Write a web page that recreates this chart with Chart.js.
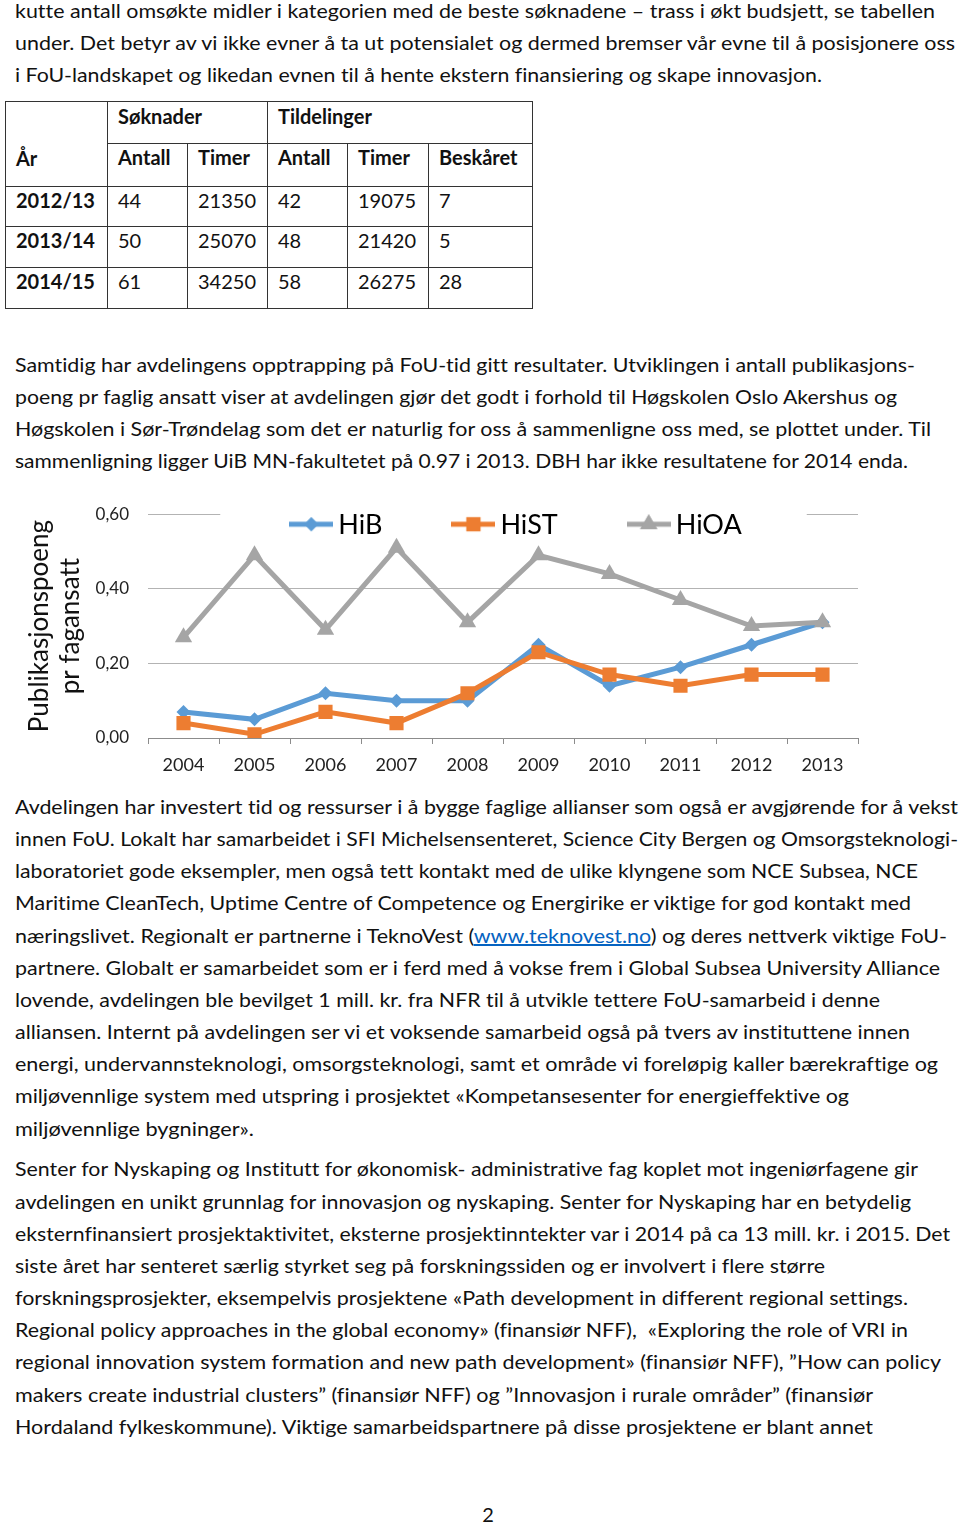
<!DOCTYPE html>
<html>
<head>
<meta charset="utf-8">
<script src="https://cdn.jsdelivr.net/npm/chart.js@4.4.1/dist/chart.umd.min.js"></script>
<style>
  html, body { margin: 0; padding: 0; background: #fff; }
  body { width: 960px; height: 1529px; position: relative; overflow: hidden; font-family: Lato, "Open Sans", sans-serif; color: #111; font-variant-ligatures: none; }
  .ln { position: absolute; left: 15px; font-size: 20px; line-height: 24px; white-space: nowrap; transform-origin: 0 0; }
  .lk { color: #0563C1; text-decoration: underline; }
  #tbl { position: absolute; left: 5px; top: 101px; border-collapse: collapse; table-layout: fixed; font-size: 20px; line-height: 24px; }
  #tbl td { border: 1px solid #333; padding: 1px 0 0 10px; vertical-align: top; box-sizing: border-box; }
  #tbl .b { font-weight: bold; }
  #chartBox { position: absolute; left: 0; top: 485px; width: 960px; height: 305px; }
  #pg { position: absolute; left: 0; width: 976px; text-align: center; top: 1502px; font-size: 20px; line-height: 24px; }
</style>
</head>
<body>

<div class="ln" style="top:-2px" data-w="920">kutte antall omsøkte midler i kategorien med de beste søknadene – trass i økt budsjett, se tabellen</div>
<div class="ln" style="top:30px" data-w="940">under. Det betyr av vi ikke evner å ta ut potensialet og dermed bremser vår evne til å posisjonere oss</div>
<div class="ln" style="top:62px" data-w="807">i FoU-landskapet og likedan evnen til å hente ekstern finansiering og skape innovasjon.</div>

<table id="tbl"></table>

<div class="ln" style="top:352px" data-w="900">Samtidig har avdelingens opptrapping på FoU-tid gitt resultater. Utviklingen i antall publikasjons-</div>
<div class="ln" style="top:384px" data-w="882">poeng pr faglig ansatt viser at avdelingen gjør det godt i forhold til Høgskolen Oslo Akershus og</div>
<div class="ln" style="top:416px" data-w="916">Høgskolen i Sør-Trøndelag som det er naturlig for oss å sammenligne oss med, se plottet under. Til</div>
<div class="ln" style="top:448px" data-w="893">sammenligning ligger UiB MN-fakultetet på 0.97 i 2013. DBH har ikke resultatene for 2014 enda.</div>

<div id="chartBox"><canvas id="chart"></canvas></div>

<div class="ln" style="top:794px" data-w="943">Avdelingen har investert tid og ressurser i å bygge faglige allianser som også er avgjørende for å vekst</div>
<div class="ln" style="top:826px" data-w="943">innen FoU. Lokalt har samarbeidet i SFI Michelsensenteret, Science City Bergen og Omsorgsteknologi-</div>
<div class="ln" style="top:858px" data-w="903">laboratoriet gode eksempler, men også tett kontakt med de ulike klyngene som NCE Subsea, NCE</div>
<div class="ln" style="top:890px" data-w="896">Maritime CleanTech, Uptime Centre of Competence og Energirike er viktige for god kontakt med</div>
<div class="ln" style="top:923px" data-w="932">næringslivet. Regionalt er partnerne i TeknoVest (<span class="lk">www.teknovest.no</span>) og deres nettverk viktige FoU-</div>
<div class="ln" style="top:955px" data-w="925">partnere. Globalt er samarbeidet som er i ferd med å vokse frem i Global Subsea University Alliance</div>
<div class="ln" style="top:987px" data-w="865">lovende, avdelingen ble bevilget 1 mill. kr. fra NFR til å utvikle tettere FoU-samarbeid i denne</div>
<div class="ln" style="top:1019px" data-w="895">alliansen. Internt på avdelingen ser vi et voksende samarbeid også på tvers av instituttene innen</div>
<div class="ln" style="top:1051px" data-w="923">energi, undervannsteknologi, omsorgsteknologi, samt et område vi foreløpig kaller bærekraftige og</div>
<div class="ln" style="top:1083px" data-w="834">miljøvennlige system med utspring i prosjektet «Kompetansesenter for energieffektive og</div>
<div class="ln" style="top:1116px" data-w="239">miljøvennlige bygninger».</div>

<div class="ln" style="top:1156px" data-w="903">Senter for Nyskaping og Institutt for økonomisk- administrative fag koplet mot ingeniørfagene gir</div>
<div class="ln" style="top:1189px" data-w="896">avdelingen en unikt grunnlag for innovasjon og nyskaping. Senter for Nyskaping har en betydelig</div>
<div class="ln" style="top:1221px" data-w="935">eksternfinansiert prosjektaktivitet, eksterne prosjektinntekter var i 2014 på ca 13 mill. kr. i 2015. Det</div>
<div class="ln" style="top:1253px" data-w="810">siste året har senteret særlig styrket seg på forskningssiden og er involvert i flere større</div>
<div class="ln" style="top:1285px" data-w="893">forskningsprosjekter, eksempelvis prosjektene «Path development in different regional settings.</div>
<div class="ln" style="top:1317px" data-w="893">Regional policy approaches in the global economy» (finansiør NFF),&nbsp; «Exploring the role of VRI in</div>
<div class="ln" style="top:1349px" data-w="926">regional innovation system formation and new path development» (finansiør NFF), ”How can policy</div>
<div class="ln" style="top:1382px" data-w="858">makers create industrial clusters” (finansiør NFF) og ”Innovasjon i rurale områder” (finansiør</div>
<div class="ln" style="top:1414px" data-w="858">Hordaland fylkeskommune). Viktige samarbeidspartnere på disse prosjektene er blant annet</div>

<div id="pg">2</div>

<script>
// Tabell: søknader og tildelinger
const tableYears = ['2012/13', '2013/14', '2014/15'];
const soknadAntall = [44, 50, 61];
const soknadTimer = [21350, 25070, 34250];
const tildelAntall = [42, 48, 58];
const tildelTimer = [19075, 21420, 26275];
const beskaret = [7, 5, 28];

// Plott: publikasjonspoeng pr fagansatt
const years = ['2004', '2005', '2006', '2007', '2008', '2009', '2010', '2011', '2012', '2013'];
const hib = [0.07, 0.05, 0.12, 0.10, 0.10, 0.25, 0.14, 0.19, 0.25, 0.31];
const hist = [0.04, 0.01, 0.07, 0.04, 0.12, 0.23, 0.17, 0.14, 0.17, 0.17];
const hioa = [0.27, 0.49, 0.29, 0.51, 0.31, 0.49, 0.44, 0.37, 0.30, 0.31];
const yTicks = [0, 0.2, 0.4, 0.6];

// bygg tabellen
const colW = [102, 80, 80, 80, 81, 104];
const tbl = document.getElementById('tbl');
let html = '<colgroup>' + colW.map(w => '<col style="width:' + w + 'px">').join('') + '</colgroup>';
html += '<tr style="height:42px"><td class="b" rowspan="2" style="padding-top:44px">År</td>' +
  '<td class="b" colspan="2" style="padding-top:2px">Søknader</td>' +
  '<td class="b" colspan="3" style="padding-top:2px">Tildelinger</td></tr>';
html += '<tr style="height:43px"><td class="b">Antall</td><td class="b">Timer</td><td class="b">Antall</td><td class="b">Timer</td><td class="b">Beskåret</td></tr>';
const rowH = [40, 41, 41];
tableYears.forEach((y, i) => {
  html += '<tr style="height:' + rowH[i] + 'px"><td class="b">' + y + '</td><td>' + soknadAntall[i] + '</td><td>' + soknadTimer[i] +
    '</td><td>' + tildelAntall[i] + '</td><td>' + tildelTimer[i] + '</td><td>' + beskaret[i] + '</td></tr>';
});
tbl.innerHTML = html;

// tilpass hver tekstlinje til bredden i originalen
document.querySelectorAll('.ln').forEach(el => {
  const w = el.getBoundingClientRect().width;
  el.style.transform = 'scaleX(' + (+el.dataset.w / w) + ')';
});

const FONT = 'Lato';

function markerIcon(color, style, r) {
  const c = document.createElement('canvas');
  c.width = 44; c.height = 24;
  const g = c.getContext('2d');
  g.strokeStyle = color; g.lineWidth = 5;
  g.beginPath(); g.moveTo(0, 12); g.lineTo(44, 12); g.stroke();
  g.fillStyle = color;
  Chart.helpers.drawPoint(g, { pointStyle: style, radius: r, borderWidth: 0, rotation: 0 }, 22, 12);
  g.fill();
  return c;
}

// egen legende inne i plottet, med hvit bakgrunn over øverste gitterlinje
const lineLegend = {
  id: 'lineLegend',
  beforeDatasetsDraw(chart) {
    const ctx = chart.ctx, area = chart.chartArea;
    ctx.save();
    ctx.font = '27px ' + FONT;
    const lineW = 42, gap = 6, spacing = 70;
    const items = chart.data.datasets.map(ds => ({ ds, tw: ctx.measureText(ds.label).width }));
    const total = items.reduce((s, it) => s + lineW + gap + it.tw, 0) + spacing * (items.length - 1);
    let x = (area.left + area.right) / 2 + 13 - total / 2;
    const y = area.top + 10;
    ctx.fillStyle = '#fff';
    ctx.fillRect(x - 70, area.top - 3, total + 135, 30);
    items.forEach(it => {
      ctx.drawImage(markerIcon(it.ds.borderColor, it.ds.pointStyle, it.ds.pointRadius), x - 1, y - 12);
      ctx.fillStyle = '#000';
      ctx.textBaseline = 'middle';
      ctx.textAlign = 'left';
      ctx.fillText(it.ds.label, x + lineW + gap, y + 1);
      x += lineW + gap + it.tw + spacing;
    });
    ctx.restore();
  }
};

new Chart(document.getElementById('chart'), {
  type: 'line',
  data: {
    labels: years,
    datasets: [
      { label: 'HiB', data: hib, borderColor: '#5B9BD5', backgroundColor: '#5B9BD5', pointStyle: 'rectRot', pointRadius: 7, order: 2 },
      { label: 'HiST', data: hist, borderColor: '#ED7D31', backgroundColor: '#ED7D31', pointStyle: 'rect', pointRadius: 10, order: 1 },
      { label: 'HiOA', data: hioa, borderColor: '#A5A5A5', backgroundColor: '#A5A5A5', pointStyle: 'triangle', pointRadius: 10, order: 0 }
    ].map(d => Object.assign(d, { borderWidth: 5, tension: 0, pointBorderWidth: 0, pointBackgroundColor: d.borderColor, fill: false }))
  },
  options: {
    responsive: true,
    maintainAspectRatio: false,
    animation: false,
    devicePixelRatio: 1,
    layout: { padding: { left: 24, right: 102, top: 19, bottom: 0 } },
    plugins: { legend: { display: false }, tooltip: { enabled: false } },
    scales: {
      x: {
        type: 'category',
        offset: true,
        grid: { offset: true, drawOnChartArea: false, tickLength: 6, color: '#8c8c8c' },
        border: { display: true, color: '#8c8c8c', width: 1 },
        ticks: { font: { family: FONT, size: 18 }, color: '#222', padding: 10, maxRotation: 0 },
        afterFit(s) { s.height = 52; }
      },
      y: {
        min: 0,
        max: 0.6,
        afterBuildTicks(s) { s.ticks = yTicks.map(v => ({ value: v })); },
        grid: { color: '#b3b3b3', drawTicks: false },
        border: { display: false },
        ticks: { font: { family: FONT, size: 17 }, color: '#222', padding: 19,
          callback: v => v.toFixed(2).replace('.', ',') },
        title: { display: true, text: ['Publikasjonspoeng', 'pr fagansatt'], color: '#111',
          font: { family: FONT, size: 26, lineHeight: 1.2 }, padding: { top: 0, bottom: 0 } },
        afterFit(s) { s.width = 124; }
      }
    }
  },
  plugins: [lineLegend]
});
</script>
</body>
</html>
